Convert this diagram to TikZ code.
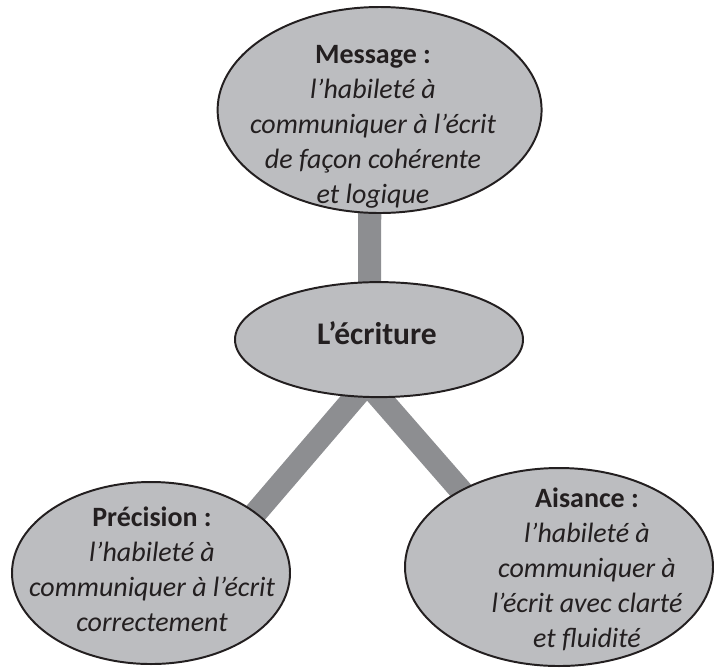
\documentclass[tikz,border=0pt]{standalone}
\usepackage{fontspec}
\setmainfont{Carlito}
\usepackage{xcolor}
\usepackage{tikz}
\usetikzlibrary{shapes.geometric,backgrounds,calc}
\definecolor{fondgris}{RGB}{188,189,192}
\definecolor{barregris}{RGB}{141,142,145}
\definecolor{encre}{RGB}{35,31,32}

\begin{document}
\begin{tikzpicture}[
  bulle/.style={ellipse,draw=encre,line width=1.4pt,fill=fondgris,inner sep=0pt},
  barre/.style={draw=barregris,line width=16.4pt,line join=miter},
  texte/.style={align=center,inner sep=0pt,text=encre,font=\fontsize{19.9}{24.9}\selectfont}]
\useasboundingbox (0,0) rectangle (17.85,-16.7);
% les quatre bulles
\node[bulle,minimum width=8.1cm,minimum height=5.15cm] (msg) at (9.49,-2.75) {};
\node[bulle,minimum width=7.2cm,minimum height=2.875cm] (ecr) at (9.475,-8.49) {};
\node[bulle,minimum width=6.95cm,minimum height=4.55cm] (prec) at (3.775,-14.325) {};
\node[bulle,minimum width=7.7cm,minimum height=4.95cm] (aise) at (13.975,-14.175) {};
\coordinate (fourche) at (9.175,-9.575);
% les textes
\node[texte] (msgtxt) at (9.325,-3.16) {\textbf{Message :}\\\textit{l’habileté à}\\\textit{communiquer à l’écrit}\\\textit{de façon cohérente}\\\textit{et logique}};
\node[texte,font=\fontsize{22.4}{27}\selectfont\bfseries] (ecrtxt) at (9.425,-8.34) {L’écriture};
\node[texte] (prectxt) at (3.8,-14.24) {\textbf{Précision :}\\\textit{l’habileté à}\\\textit{communiquer à l’écrit}\\\textit{correctement}};
\node[texte] (aisetxt) at (14.675,-14.225) {\textbf{Aisance :}\\\textit{l’habileté à}\\\textit{communiquer à}\\\textit{l’écrit avec clarté}\\\textit{et fluidité}};
% les liens, sous les bulles
\begin{pgfonlayer}{background}
\draw[barre] ([xshift=-0.24cm]msg.center) -- ([xshift=-0.24cm]ecr.center);
\draw[barre] ($(fourche)!1.3!(prec.30)$) -- (fourche) -- ($(fourche)!1.3!(aise.142)$);
\end{pgfonlayer}
\end{tikzpicture}
\end{document}
